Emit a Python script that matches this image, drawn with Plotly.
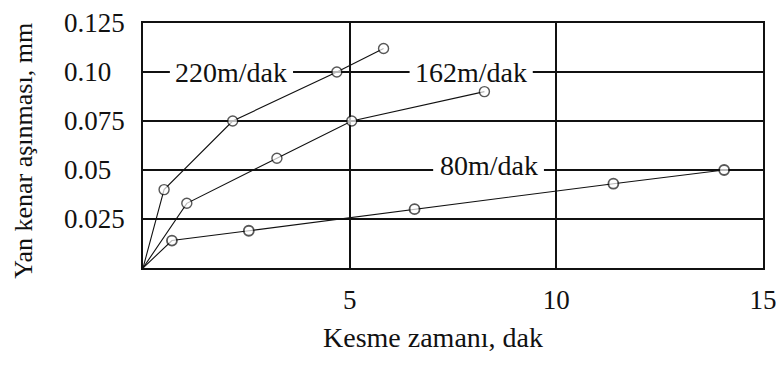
import plotly.graph_objects as go

# Cutting time (min) vs flank wear (mm) for three cutting speeds
x_220 = [0, 0.51, 2.17, 4.69, 5.82]
y_220 = [0, 0.040, 0.075, 0.100, 0.112]

x_162 = [0, 1.06, 3.24, 5.05, 8.26]
y_162 = [0, 0.033, 0.056, 0.075, 0.090]

x_80 = [0, 0.70, 2.56, 6.57, 11.38, 14.06]
y_80 = [0, 0.014, 0.019, 0.030, 0.043, 0.050]

series_names = ["220m/dak", "162m/dak", "80m/dak"]
label_x = [2.14, 7.94, 8.36]
label_y = [0.100, 0.100, 0.0525]
label_grid = [0.100, 0.100, 0.050]
label_halfwidth = [1.49, 1.49, 1.34]

x_ticks = [5, 10, 15]
y_ticks = [0.025, 0.05, 0.075, 0.10, 0.125]
y_tick_text = ["0.025", "0.05", "0.075", "0.10", "0.125"]

FONT = "Liberation Serif, Times New Roman, serif"
FS = 28
FS_TICK = 27

fig = go.Figure()

for xs, ys, name, lw in [(x_220, y_220, series_names[0], 1.4),
                         (x_162, y_162, series_names[1], 1.4),
                         (x_80, y_80, series_names[2], 1.8)]:
    sizes = [0] + [10] * (len(xs) - 1)
    fig.add_trace(go.Scatter(
        x=xs, y=ys, mode="lines+markers", name=name,
        line=dict(color="#111111", width=1.1),
        marker=dict(symbol="circle", size=sizes, color="white",
                    line=dict(color="#111111", width=lw)),
        showlegend=False,
    ))

# white gaps in the grid behind the curve labels
for lx, g, hw in zip(label_x, label_grid, label_halfwidth):
    fig.add_shape(type="rect", xref="x", yref="y",
                  x0=lx - hw, x1=lx + hw, y0=g - 0.002, y1=g + 0.002,
                  fillcolor="white", line=dict(width=0), layer="between")

for txt, lx, ly in zip(series_names, label_x, label_y):
    fig.add_annotation(x=lx, y=ly, xref="x", yref="y", text=txt,
                       showarrow=False, xanchor="center", yanchor="middle",
                       font=dict(family=FONT, size=FS, color="#111111"))

# left-aligned y tick labels
for v, t in zip(y_ticks, y_tick_text):
    fig.add_annotation(x=-0.131, y=v, xref="paper", yref="y", text=t,
                       showarrow=False, xanchor="left", yanchor="middle",
                       font=dict(family=FONT, size=FS_TICK, color="#111111"))

# axis titles (x title row converted from pixels to paper units)
fig.add_annotation(x=0.468, y=(367 - 99 - 338) / (367 - 23 - 99), xref="paper", yref="paper",
                   text="Kesme zamanı, dak",
                   showarrow=False, xanchor="center", yanchor="middle",
                   font=dict(family=FONT, size=FS, color="#111111"))
fig.add_annotation(x=-0.193, y=0.48, xref="paper", yref="paper", text="Yan kenar aşınması, mm",
                   showarrow=False, xanchor="center", yanchor="middle", textangle=-90,
                   font=dict(family=FONT, size=26, color="#111111"))

fig.update_xaxes(range=[0, 15], tickvals=x_ticks, ticktext=[str(v) for v in x_ticks],
                 showgrid=True, gridcolor="#111111", gridwidth=1.5,
                 showline=True, linecolor="#111111", linewidth=1.5, mirror=True,
                 zeroline=False, ticks="", ticklabelstandoff=7,
                 ticklabeloverflow="allow", automargin=False,
                 tickfont=dict(family=FONT, size=FS_TICK, color="#111111"))
fig.update_yaxes(range=[0, 0.125], tickvals=y_ticks, showticklabels=False,
                 showgrid=True, gridcolor="#111111", gridwidth=1.5,
                 showline=True, linecolor="#111111", linewidth=1.5, mirror=True,
                 zeroline=False, ticks="", automargin=False)

fig.update_layout(width=776, height=367,
                  margin=dict(l=143, r=13, t=23, b=99, autoexpand=False),
                  paper_bgcolor="white", plot_bgcolor="white")

fig.write_html("out.html")
